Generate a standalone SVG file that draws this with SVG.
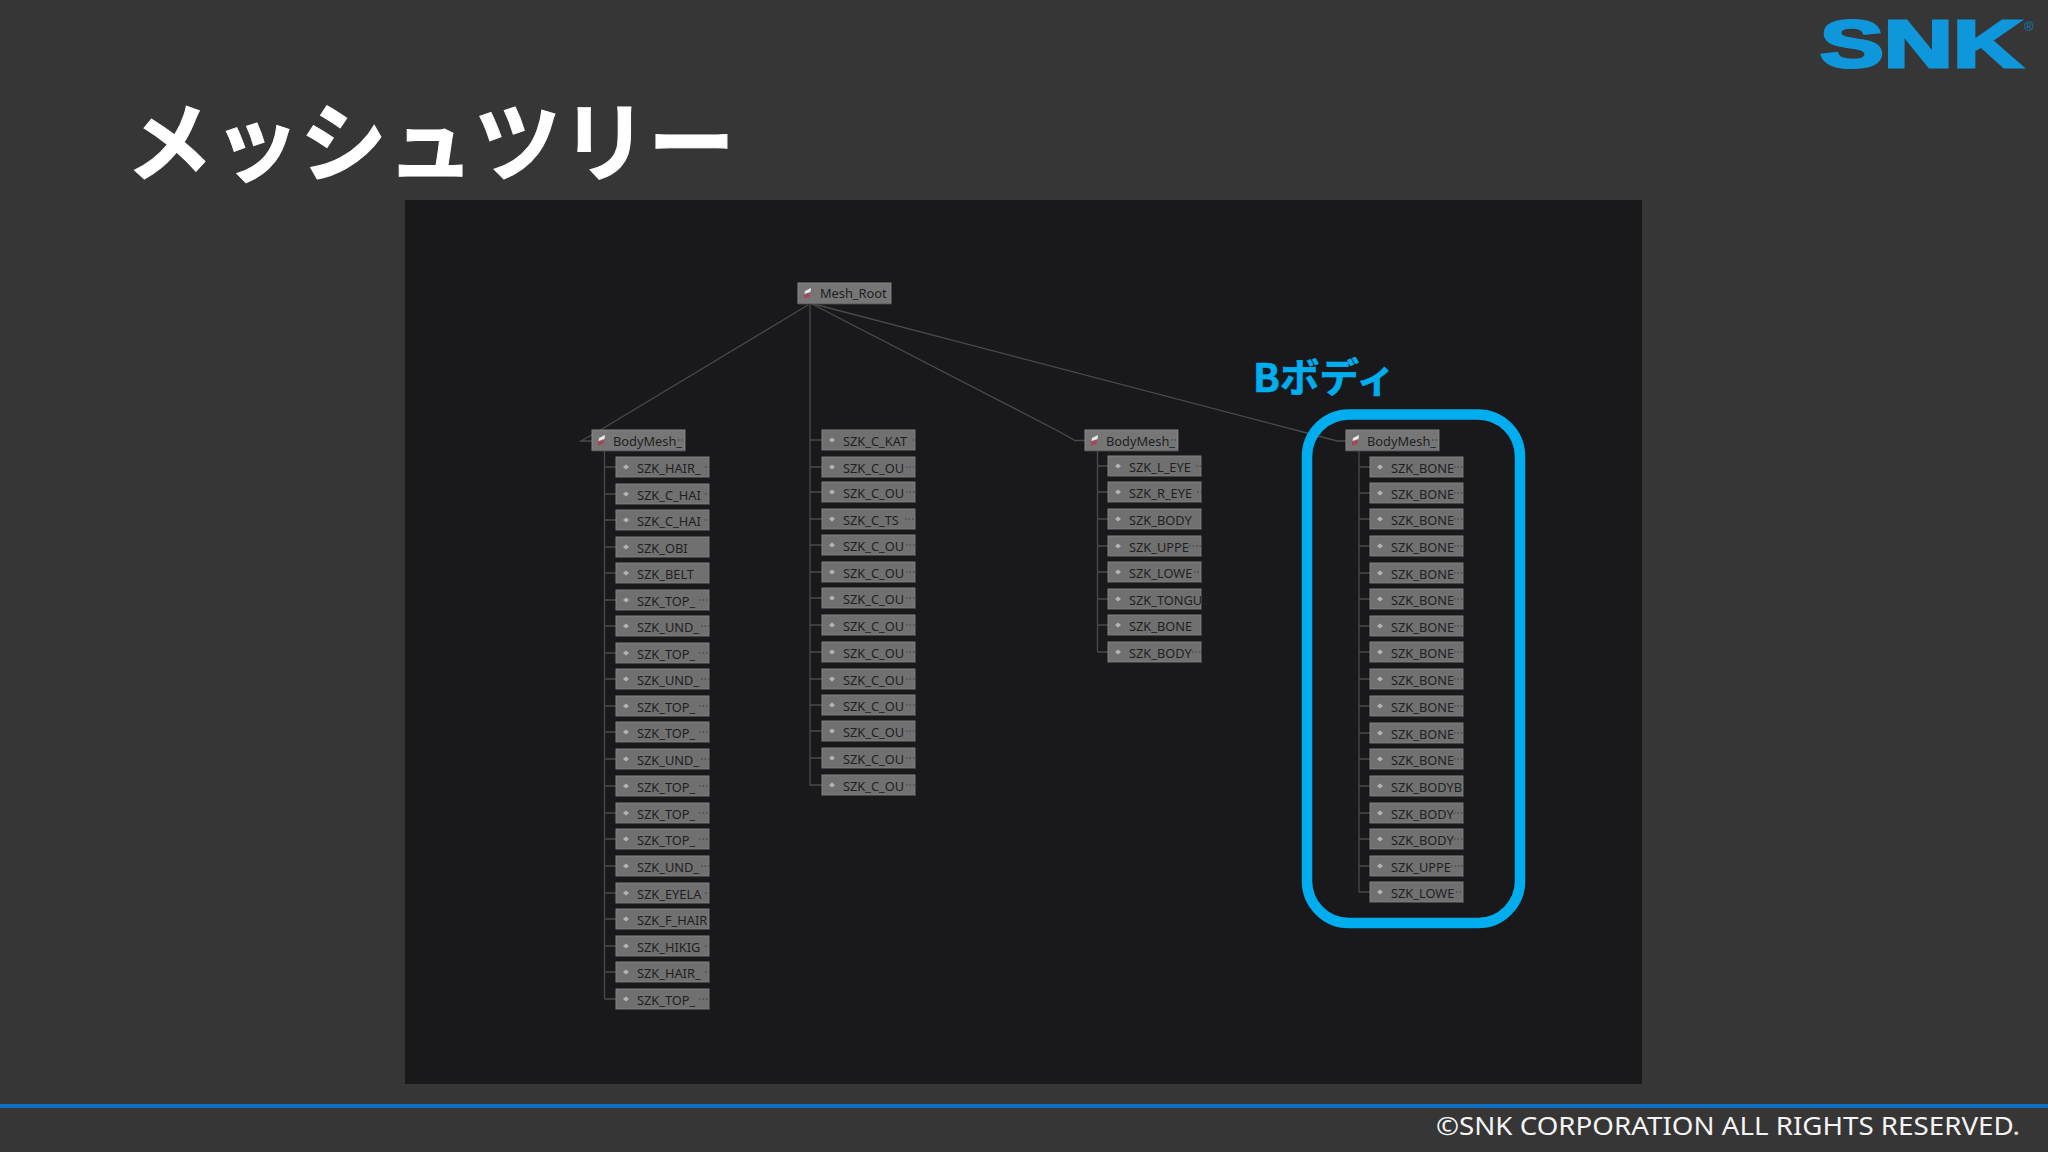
<svg xmlns="http://www.w3.org/2000/svg" width="2048" height="1152" viewBox="0 0 2048 1152">
<style>
.node text{font-family:"Noto Sans","DejaVu Sans",sans-serif;font-size:12.8px;fill:#1f1f21}
.box{fill:#707071;stroke:#818182;stroke-width:1}
.box2{fill:#767677;stroke:#888889;stroke-width:1}
.dia{fill:#b5b5b5}
.dots{fill:none;stroke:#3a3a3a;stroke-width:1;stroke-dasharray:1.5 2}
#connectors path{fill:none;stroke:#4a4a4a;stroke-width:1.3}
</style>
<defs>
<g id="child"><rect class="box" x="0" y="0" width="93" height="20"/><path d="M0 20.5H93.5V0" fill="none" stroke="#454546"/><path class="dia" d="M7 10l3-2.500 3 2.500-3 2.500z"/></g>
<g id="mesh"><rect class="box2" x="0" y="0" width="93" height="20.5"/><path d="M0 21H93.5V0" fill="none" stroke="#454546"/><path d="M7 8l6-3-.5 4-6 2z" fill="#e8e8e8"/><path d="M6 12l6-2-.5 4-5.500 1.500z" fill="#a8455a"/></g>
</defs>
<rect width="2048" height="1152" fill="#363636"/>
<rect x="405" y="200" width="1237" height="884" fill="#19191b"/>
<rect x="0" y="1104" width="2048" height="4" fill="#0e6fc2"/>
<text x="126" y="175" font-family="'Noto Sans CJK JP',sans-serif" font-weight="700" font-size="87" fill="#fff" stroke="#fff" stroke-width="1">メッシュツリー</text>
<g id="logo"><text x="1820" y="67" font-family="'Liberation Sans',sans-serif" font-weight="700" font-size="66" fill="#0f97dc" stroke="#0f97dc" stroke-width="3" textLength="202" lengthAdjust="spacingAndGlyphs">SNK</text><text x="2024" y="31" font-family="'Liberation Sans',sans-serif" font-size="13" fill="#0f7fb8">®</text></g>
<text x="1436" y="1135" font-family="'Noto Sans',sans-serif" font-size="25" fill="#f4f4f4" textLength="584" lengthAdjust="spacingAndGlyphs">©SNK CORPORATION ALL RIGHTS RESERVED.</text>
<g id="connectors">
<path d="M810 303V785.500"/>
<path d="M808 305L597 432L581 441H592"/>
<path d="M810 303L1060 432L1075 440.500H1085"/>
<path d="M810 303L1303 432L1337 441H1346"/>
<path d="M604.500 451V999M604.500 467H616M604.500 494H616M604.500 520H616M604.500 547H616M604.500 573H616M604.500 600H616M604.500 626H616M604.500 653H616M604.500 679H616M604.500 706H616M604.500 732H616M604.500 759H616M604.500 786H616M604.500 813H616M604.500 839H616M604.500 866H616M604.500 893H616M604.500 919H616M604.500 946H616M604.500 972H616M604.500 999H616"/>
<path d="M810 440H822M810 467H822M810 492H822M810 519H822M810 545H822M810 572H822M810 598H822M810 625H822M810 652H822M810 679H822M810 705H822M810 731H822M810 758H822M810 785H822"/>
<path d="M1097.500 450V652M1097.500 466H1108M1097.500 492H1108M1097.500 519H1108M1097.500 546H1108M1097.500 572H1108M1097.500 599H1108M1097.500 625H1108M1097.500 652H1108"/>
<path d="M1359 451V892M1359 467H1370M1359 493H1370M1359 519H1370M1359 546H1370M1359 573H1370M1359 599H1370M1359 626H1370M1359 652H1370M1359 679H1370M1359 706H1370M1359 733H1370M1359 759H1370M1359 786H1370M1359 813H1370M1359 839H1370M1359 866H1370M1359 892H1370"/>
</g>
<g id="highlight"><rect x="1307" y="414.500" width="213" height="508.500" rx="42" fill="none" stroke="#00aeef" stroke-width="10.500"/><text x="1253" y="392" font-family="'Noto Sans CJK JP',sans-serif" font-weight="700" font-size="39.500" fill="#00aeef" stroke="#00aeef" stroke-width=".6">Bボディ</text></g>
<g id="root" class="node" transform="translate(798,283)"><use href="#mesh"/><text x="22" y="15">Mesh_Root</text></g>
<g id="body1" class="node" transform="translate(592,430)"><use href="#mesh"/><text x="21" y="15.500">BodyMesh_</text><path class="dots" d="M86 10H93"/></g>
<g id="body2" class="node" transform="translate(1085,430)"><use href="#mesh"/><text x="21" y="15.500">BodyMesh_</text><path class="dots" d="M86 10H93"/></g>
<g id="body3" class="node" transform="translate(1346,430)"><use href="#mesh"/><text x="21" y="15.500">BodyMesh_</text><path class="dots" d="M86 10H93"/></g>
<g id="a1" class="node" transform="translate(616,457)"><use href="#child"/><text x="21" y="15.500">SZK_HAIR_</text><path class="dots" d="M89 10H93"/></g>
<g id="a2" class="node" transform="translate(616,484)"><use href="#child"/><text x="21" y="15.500">SZK_C_HAI</text><path class="dots" d="M89 10H93"/></g>
<g id="a3" class="node" transform="translate(616,510)"><use href="#child"/><text x="21" y="15.500">SZK_C_HAI</text><path class="dots" d="M89 10H93"/></g>
<g id="a4" class="node" transform="translate(616,537)"><use href="#child"/><text x="21" y="15.500">SZK_OBI</text></g>
<g id="a5" class="node" transform="translate(616,563)"><use href="#child"/><text x="21" y="15.500">SZK_BELT</text></g>
<g id="a6" class="node" transform="translate(616,590)"><use href="#child"/><text x="21" y="15.500">SZK_TOP_</text><path class="dots" d="M83 10H93"/></g>
<g id="a7" class="node" transform="translate(616,616)"><use href="#child"/><text x="21" y="15.500">SZK_UND_</text><path class="dots" d="M85 10H93"/></g>
<g id="a8" class="node" transform="translate(616,643)"><use href="#child"/><text x="21" y="15.500">SZK_TOP_</text><path class="dots" d="M83 10H93"/></g>
<g id="a9" class="node" transform="translate(616,669)"><use href="#child"/><text x="21" y="15.500">SZK_UND_</text><path class="dots" d="M85 10H93"/></g>
<g id="a10" class="node" transform="translate(616,696)"><use href="#child"/><text x="21" y="15.500">SZK_TOP_</text><path class="dots" d="M83 10H93"/></g>
<g id="a11" class="node" transform="translate(616,722)"><use href="#child"/><text x="21" y="15.500">SZK_TOP_</text><path class="dots" d="M83 10H93"/></g>
<g id="a12" class="node" transform="translate(616,749)"><use href="#child"/><text x="21" y="15.500">SZK_UND_</text><path class="dots" d="M85 10H93"/></g>
<g id="a13" class="node" transform="translate(616,776)"><use href="#child"/><text x="21" y="15.500">SZK_TOP_</text><path class="dots" d="M83 10H93"/></g>
<g id="a14" class="node" transform="translate(616,803)"><use href="#child"/><text x="21" y="15.500">SZK_TOP_</text><path class="dots" d="M83 10H93"/></g>
<g id="a15" class="node" transform="translate(616,829)"><use href="#child"/><text x="21" y="15.500">SZK_TOP_</text><path class="dots" d="M83 10H93"/></g>
<g id="a16" class="node" transform="translate(616,856)"><use href="#child"/><text x="21" y="15.500">SZK_UND_</text><path class="dots" d="M85 10H93"/></g>
<g id="a17" class="node" transform="translate(616,883)"><use href="#child"/><text x="21" y="15.500">SZK_EYELA</text><path class="dots" d="M89 10H93"/></g>
<g id="a18" class="node" transform="translate(616,909)"><use href="#child"/><text x="21" y="15.500">SZK_F_HAIR</text></g>
<g id="a19" class="node" transform="translate(616,936)"><use href="#child"/><text x="21" y="15.500">SZK_HIKIG</text><path class="dots" d="M89 10H93"/></g>
<g id="a20" class="node" transform="translate(616,962)"><use href="#child"/><text x="21" y="15.500">SZK_HAIR_</text><path class="dots" d="M89 10H93"/></g>
<g id="a21" class="node" transform="translate(616,989)"><use href="#child"/><text x="21" y="15.500">SZK_TOP_</text><path class="dots" d="M83 10H93"/></g>
<g id="b1" class="node" transform="translate(822,430)"><use href="#child"/><text x="21" y="15.500">SZK_C_KAT</text><path class="dots" d="M91 10H93"/></g>
<g id="b2" class="node" transform="translate(822,457)"><use href="#child"/><text x="21" y="15.500">SZK_C_OU</text><path class="dots" d="M84 10H93"/></g>
<g id="b3" class="node" transform="translate(822,482)"><use href="#child"/><text x="21" y="15.500">SZK_C_OU</text><path class="dots" d="M84 10H93"/></g>
<g id="b4" class="node" transform="translate(822,509)"><use href="#child"/><text x="21" y="15.500">SZK_C_TS</text><path class="dots" d="M83 10H93"/></g>
<g id="b5" class="node" transform="translate(822,535)"><use href="#child"/><text x="21" y="15.500">SZK_C_OU</text><path class="dots" d="M84 10H93"/></g>
<g id="b6" class="node" transform="translate(822,562)"><use href="#child"/><text x="21" y="15.500">SZK_C_OU</text><path class="dots" d="M84 10H93"/></g>
<g id="b7" class="node" transform="translate(822,588)"><use href="#child"/><text x="21" y="15.500">SZK_C_OU</text><path class="dots" d="M84 10H93"/></g>
<g id="b8" class="node" transform="translate(822,615)"><use href="#child"/><text x="21" y="15.500">SZK_C_OU</text><path class="dots" d="M84 10H93"/></g>
<g id="b9" class="node" transform="translate(822,642)"><use href="#child"/><text x="21" y="15.500">SZK_C_OU</text><path class="dots" d="M84 10H93"/></g>
<g id="b10" class="node" transform="translate(822,669)"><use href="#child"/><text x="21" y="15.500">SZK_C_OU</text><path class="dots" d="M84 10H93"/></g>
<g id="b11" class="node" transform="translate(822,695)"><use href="#child"/><text x="21" y="15.500">SZK_C_OU</text><path class="dots" d="M84 10H93"/></g>
<g id="b12" class="node" transform="translate(822,721)"><use href="#child"/><text x="21" y="15.500">SZK_C_OU</text><path class="dots" d="M84 10H93"/></g>
<g id="b13" class="node" transform="translate(822,748)"><use href="#child"/><text x="21" y="15.500">SZK_C_OU</text><path class="dots" d="M84 10H93"/></g>
<g id="b14" class="node" transform="translate(822,775)"><use href="#child"/><text x="21" y="15.500">SZK_C_OU</text><path class="dots" d="M84 10H93"/></g>
<g id="c1" class="node" transform="translate(1108,456)"><use href="#child"/><text x="21" y="15.500">SZK_L_EYE</text><path class="dots" d="M88 10H93"/></g>
<g id="c2" class="node" transform="translate(1108,482)"><use href="#child"/><text x="21" y="15.500">SZK_R_EYE</text><path class="dots" d="M89 10H93"/></g>
<g id="c3" class="node" transform="translate(1108,509)"><use href="#child"/><text x="21" y="15.500">SZK_BODY</text></g>
<g id="c4" class="node" transform="translate(1108,536)"><use href="#child"/><text x="21" y="15.500">SZK_UPPE</text><path class="dots" d="M81 10H93"/></g>
<g id="c5" class="node" transform="translate(1108,562)"><use href="#child"/><text x="21" y="15.500">SZK_LOWE</text><path class="dots" d="M86 10H93"/></g>
<g id="c6" class="node" transform="translate(1108,589)"><use href="#child"/><text x="21" y="15.500">SZK_TONGUE</text></g>
<g id="c7" class="node" transform="translate(1108,615)"><use href="#child"/><text x="21" y="15.500">SZK_BONE</text></g>
<g id="c8" class="node" transform="translate(1108,642)"><use href="#child"/><text x="21" y="15.500">SZK_BODY</text><path class="dots" d="M84 10H93"/></g>
<g id="d1" class="node" transform="translate(1370,457)"><use href="#child"/><text x="21" y="15.500">SZK_BONE</text><path class="dots" d="M84 10H93"/></g>
<g id="d2" class="node" transform="translate(1370,483)"><use href="#child"/><text x="21" y="15.500">SZK_BONE</text><path class="dots" d="M84 10H93"/></g>
<g id="d3" class="node" transform="translate(1370,509)"><use href="#child"/><text x="21" y="15.500">SZK_BONE</text><path class="dots" d="M84 10H93"/></g>
<g id="d4" class="node" transform="translate(1370,536)"><use href="#child"/><text x="21" y="15.500">SZK_BONE</text><path class="dots" d="M84 10H93"/></g>
<g id="d5" class="node" transform="translate(1370,563)"><use href="#child"/><text x="21" y="15.500">SZK_BONE</text><path class="dots" d="M84 10H93"/></g>
<g id="d6" class="node" transform="translate(1370,589)"><use href="#child"/><text x="21" y="15.500">SZK_BONE</text><path class="dots" d="M84 10H93"/></g>
<g id="d7" class="node" transform="translate(1370,616)"><use href="#child"/><text x="21" y="15.500">SZK_BONE</text><path class="dots" d="M84 10H93"/></g>
<g id="d8" class="node" transform="translate(1370,642)"><use href="#child"/><text x="21" y="15.500">SZK_BONE</text><path class="dots" d="M84 10H93"/></g>
<g id="d9" class="node" transform="translate(1370,669)"><use href="#child"/><text x="21" y="15.500">SZK_BONE</text><path class="dots" d="M84 10H93"/></g>
<g id="d10" class="node" transform="translate(1370,696)"><use href="#child"/><text x="21" y="15.500">SZK_BONE</text><path class="dots" d="M84 10H93"/></g>
<g id="d11" class="node" transform="translate(1370,723)"><use href="#child"/><text x="21" y="15.500">SZK_BONE</text><path class="dots" d="M84 10H93"/></g>
<g id="d12" class="node" transform="translate(1370,749)"><use href="#child"/><text x="21" y="15.500">SZK_BONE</text><path class="dots" d="M84 10H93"/></g>
<g id="d13" class="node" transform="translate(1370,776)"><use href="#child"/><text x="21" y="15.500">SZK_BODYB</text></g>
<g id="d14" class="node" transform="translate(1370,803)"><use href="#child"/><text x="21" y="15.500">SZK_BODY</text><path class="dots" d="M84 10H93"/></g>
<g id="d15" class="node" transform="translate(1370,829)"><use href="#child"/><text x="21" y="15.500">SZK_BODY</text><path class="dots" d="M84 10H93"/></g>
<g id="d16" class="node" transform="translate(1370,856)"><use href="#child"/><text x="21" y="15.500">SZK_UPPE</text><path class="dots" d="M81 10H93"/></g>
<g id="d17" class="node" transform="translate(1370,882)"><use href="#child"/><text x="21" y="15.500">SZK_LOWE</text><path class="dots" d="M86 10H93"/></g>
</svg>
